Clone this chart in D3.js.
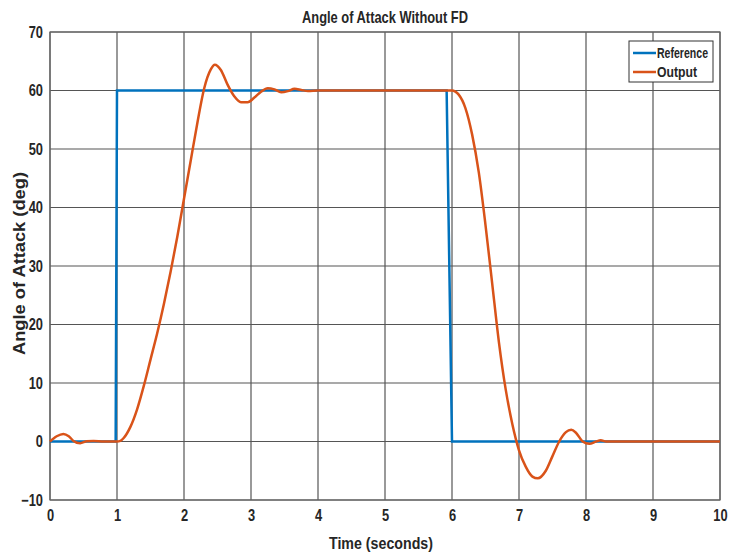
<!DOCTYPE html>
<html>
<head>
<meta charset="utf-8">
<script src="https://cdn.jsdelivr.net/npm/d3@7"></script>
<style>
  body { margin: 0; background: #fff; }
  text { font-family: "Liberation Sans", Arial, sans-serif; font-weight: bold; fill: #262626; }
</style>
</head>
<body>
<div id="chart"></div>
<script>
// Angle d'attaque — référence et sortie

const refT   = [0, 0.98, 1.0, 5.92, 6.0, 10];
const refVal = [0, 0, 60, 60, 0, 0];

const outT   = [0, 0.1, 0.2, 0.28, 0.35, 0.45, 0.55, 0.65, 0.8, 1.0, 1.05, 1.1, 1.2, 1.3, 1.4, 1.5, 1.6, 1.7, 1.8, 1.9, 2.0, 2.1, 2.2, 2.3, 2.4, 2.46, 2.55, 2.65, 2.75, 2.85, 2.95, 3.05, 3.15, 3.25, 3.35, 3.45, 3.55, 3.65, 3.75, 3.85, 4.0, 5.0, 6.0, 6.05, 6.1, 6.2, 6.3, 6.4, 6.5, 6.6, 6.7, 6.8, 6.9, 7.0, 7.1, 7.2, 7.28, 7.4, 7.5, 7.6, 7.7, 7.78, 7.85, 7.95, 8.05, 8.15, 8.22, 8.3, 8.5, 10];
const outVal = [0, 0.9, 1.3, 0.9, 0.1, -0.3, 0.05, 0.1, 0, 0, 0.1, 0.6, 2.5, 5.5, 9.5, 14, 18.5, 23.5, 29, 35, 41.5, 48, 54.5, 60.3, 63.6, 64.4, 63.5, 61, 59, 58, 58, 58.8, 59.8, 60.4, 60.2, 59.7, 59.9, 60.3, 60.1, 59.9, 60, 60, 60, 59.8, 59.3, 57, 52.5, 46, 37, 27, 17, 9, 3, -1.5, -4.3, -6, -6.3, -5, -2.5, 0, 1.6, 2.0, 1.5, 0, -0.4, 0, 0.2, 0, 0, 0];

const xTicks = d3.range(0, 11, 1);
const yTicks = d3.range(-10, 71, 10);

const largeur = 729, hauteur = 554;
const marge = { haut: 32, droite: 9, bas: 54, gauche: 50 };

const svg = d3.select("#chart").append("svg")
    .attr("width", largeur).attr("height", hauteur);

const x = d3.scaleLinear().domain([0, 10]).range([marge.gauche, largeur - marge.droite]);
const y = d3.scaleLinear().domain([-10, 70]).range([hauteur - marge.bas, marge.haut]);

// grille
svg.append("g").selectAll("line").data(xTicks).join("line")
    .attr("x1", d => x(d)).attr("x2", d => x(d))
    .attr("y1", y(-10)).attr("y2", y(70))
    .attr("stroke", "#555").attr("stroke-width", 1.2);
svg.append("g").selectAll("line").data(yTicks).join("line")
    .attr("x1", x(0)).attr("x2", x(10))
    .attr("y1", d => y(d)).attr("y2", d => y(d))
    .attr("stroke", "#555").attr("stroke-width", 1.2);

// axes (chiffres étroits)
const axeX = svg.append("g").attr("transform", `translate(0,${y(-10)})`)
    .call(d3.axisBottom(x).tickValues(xTicks).tickSize(0).tickPadding(9));
const axeY = svg.append("g").attr("transform", `translate(${x(0)},0)`)
    .call(d3.axisLeft(y).tickValues(yTicks).tickSize(0).tickPadding(7));
[axeX, axeY].forEach(a => {
    a.select(".domain").remove();
    a.selectAll("text")
        .style("font-size", "16.5px").style("font-family", "'Liberation Sans', sans-serif")
        .style("font-weight", "bold").attr("fill", "#262626")
        .style("transform-box", "fill-box")
        .style("transform", "scaleX(0.78)");
});
axeX.selectAll("text").style("transform-origin", "center");
axeY.selectAll("text").style("transform-origin", "right center");

// cadre
svg.append("rect")
    .attr("x", x(0)).attr("y", y(70))
    .attr("width", x(10) - x(0)).attr("height", y(-10) - y(70))
    .attr("fill", "none").attr("stroke", "#666").attr("stroke-width", 1.2);

// courbes
const ligne = d3.line().x(d => x(d[0])).y(d => y(d[1]));
const ligneLisse = d3.line().x(d => x(d[0])).y(d => y(d[1])).curve(d3.curveMonotoneX);

svg.append("path")
    .datum(d3.zip(refT, refVal))
    .attr("d", ligne)
    .attr("fill", "none").attr("stroke", "#0072BD").attr("stroke-width", 2.5);

svg.append("path")
    .datum(d3.zip(outT, outVal))
    .attr("d", ligneLisse)
    .attr("fill", "none").attr("stroke", "#D95319").attr("stroke-width", 2.5);

// titres
svg.append("text").attr("x", 302).attr("y", 23)
    .attr("textLength", 166).attr("lengthAdjust", "spacingAndGlyphs")
    .style("font-size", "17px").text("Angle of Attack Without FD");
svg.append("text").attr("x", 329).attr("y", 549)
    .attr("textLength", 104).attr("lengthAdjust", "spacingAndGlyphs")
    .style("font-size", "17px").text("Time (seconds)");
svg.append("text").attr("transform", "translate(25,355) rotate(-90)")
    .attr("textLength", 183).attr("lengthAdjust", "spacingAndGlyphs")
    .style("font-size", "17px")
    .text("Angle of Attack (deg)");

// légende
const leg = svg.append("g").attr("transform", "translate(629,41)");
leg.append("rect").attr("width", 84).attr("height", 41)
    .attr("fill", "#fff").attr("stroke", "#333").attr("stroke-width", 1);
const series = [["Reference", "#0072BD", 51], ["Output", "#D95319", 40]];
series.forEach(([nom, c, lg], i) => {
    leg.append("line").attr("x1", 4).attr("x2", 27).attr("y1", 12 + i * 19).attr("y2", 12 + i * 19)
        .attr("stroke", c).attr("stroke-width", 2.5);
    leg.append("text").attr("x", 28).attr("y", 17 + i * 19)
        .attr("textLength", lg).attr("lengthAdjust", "spacingAndGlyphs")
        .style("font-size", "15px").text(nom);
});
</script>
</body>
</html>
